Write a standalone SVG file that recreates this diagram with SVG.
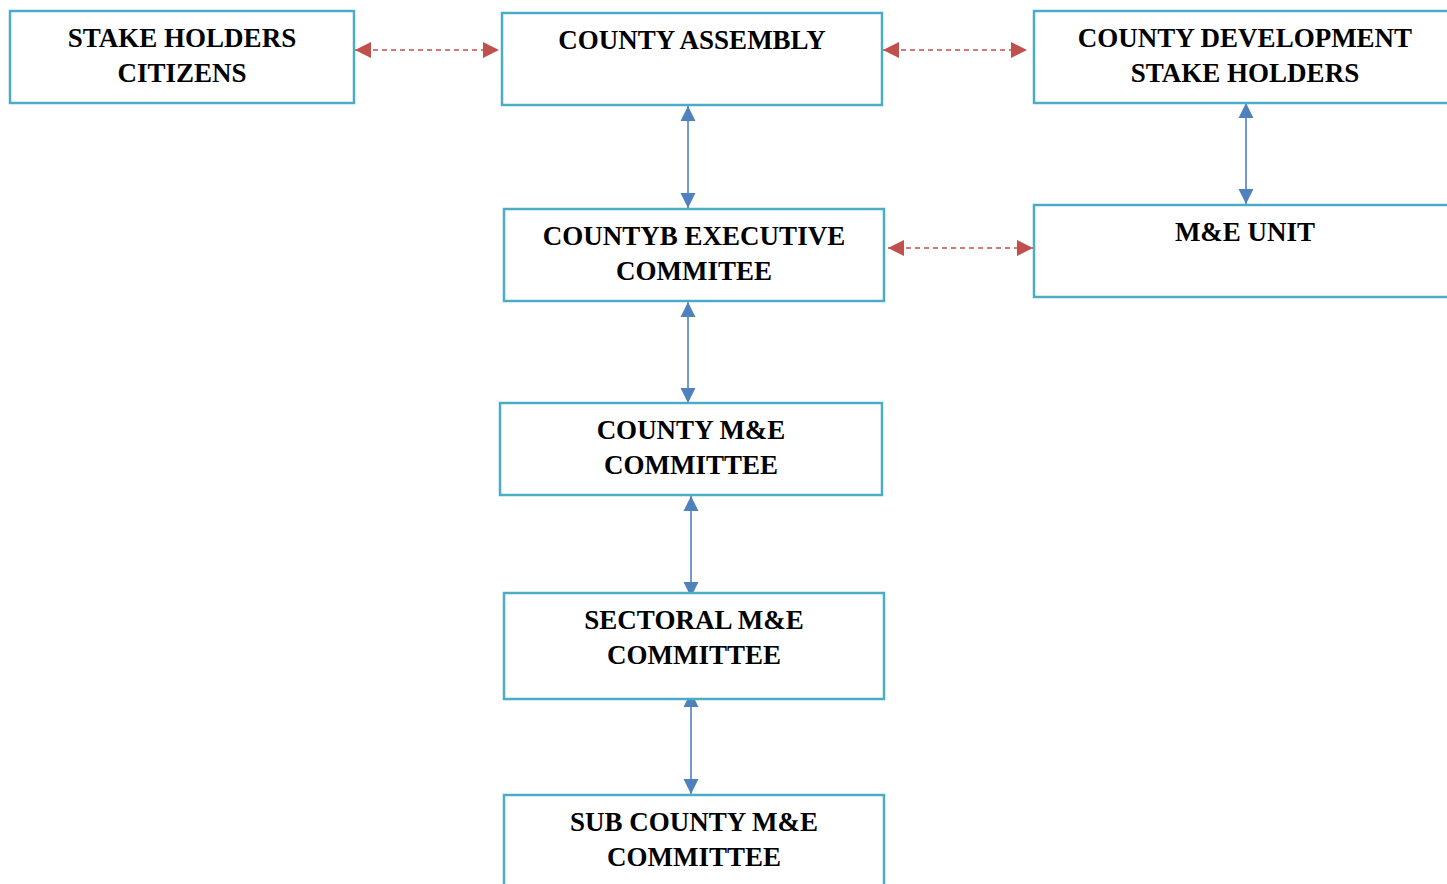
<svg xmlns="http://www.w3.org/2000/svg" width="1447" height="884" viewBox="0 0 1447 884">
<style>
.box{fill:#fff;stroke:#4BACC6;stroke-width:2.5}
.t{font-family:"Liberation Serif","DejaVu Serif",serif;font-weight:bold;font-size:27px;fill:#000;text-anchor:middle}
.red{stroke:#C0504D;stroke-width:1.3;stroke-dasharray:5,4;fill:none}
.blue{stroke:#4F81BD;stroke-width:1.6;fill:none}
</style>
<defs>
<marker id="rh" markerUnits="userSpaceOnUse" markerWidth="18" markerHeight="16" refX="16" refY="8" orient="auto-start-reverse"><path d="M0,0 L16,8 L0,16 Z" fill="#C0504D"/></marker>
<marker id="bh" markerUnits="userSpaceOnUse" markerWidth="16" markerHeight="16" refX="15" refY="8" orient="auto-start-reverse"><path d="M0,0.5 L15,8 L0,15.5 Z" fill="#4F81BD"/></marker>
</defs>
<g id="connectors">
<line class="red" x1="355" y1="50" x2="499" y2="50" marker-start="url(#rh)" marker-end="url(#rh)"/>
<line class="red" x1="883" y1="50" x2="1027" y2="50" marker-start="url(#rh)" marker-end="url(#rh)"/>
<line class="red" x1="888" y1="248" x2="1033" y2="248" marker-start="url(#rh)" marker-end="url(#rh)"/>
<line class="blue" x1="688" y1="106" x2="688" y2="208" marker-start="url(#bh)" marker-end="url(#bh)"/>
<line class="blue" x1="688" y1="302" x2="688" y2="403" marker-start="url(#bh)" marker-end="url(#bh)"/>
<line class="blue" x1="691" y1="496" x2="691" y2="597" marker-start="url(#bh)" marker-end="url(#bh)"/>
<line class="blue" x1="691" y1="692" x2="691" y2="794" marker-start="url(#bh)" marker-end="url(#bh)"/>
<line class="blue" x1="1246" y1="103" x2="1246" y2="204" marker-start="url(#bh)" marker-end="url(#bh)"/>
</g>
<g id="stakeholders">
<rect class="box" x="10" y="11" width="344" height="92"/>
<text class="t" x="182" y="47">STAKE HOLDERS</text>
<text class="t" x="182" y="82">CITIZENS</text>
</g>
<g id="assembly">
<rect class="box" x="502" y="13" width="380" height="92"/>
<text class="t" x="692" y="49">COUNTY ASSEMBLY</text>
</g>
<g id="development">
<rect class="box" x="1034" y="11" width="430" height="92"/>
<text class="t" x="1245" y="47">COUNTY DEVELOPMENT</text>
<text class="t" x="1245" y="82">STAKE HOLDERS</text>
</g>
<g id="executive">
<rect class="box" x="504" y="209" width="380" height="92"/>
<text class="t" x="694" y="245">COUNTYB EXECUTIVE</text>
<text class="t" x="694" y="280">COMMITEE</text>
</g>
<g id="meunit">
<rect class="box" x="1034" y="205" width="430" height="92"/>
<text class="t" x="1245" y="241">M&amp;E UNIT</text>
</g>
<g id="countyme">
<rect class="box" x="500" y="403" width="382" height="92"/>
<text class="t" x="691" y="439">COUNTY M&amp;E</text>
<text class="t" x="691" y="474">COMMITTEE</text>
</g>
<g id="sectoral">
<rect class="box" x="504" y="593" width="380" height="106"/>
<text class="t" x="694" y="629">SECTORAL M&amp;E</text>
<text class="t" x="694" y="664">COMMITTEE</text>
</g>
<g id="subcounty">
<rect class="box" x="504" y="795" width="380" height="110"/>
<text class="t" x="694" y="831">SUB COUNTY M&amp;E</text>
<text class="t" x="694" y="866">COMMITTEE</text>
</g>
</svg>
